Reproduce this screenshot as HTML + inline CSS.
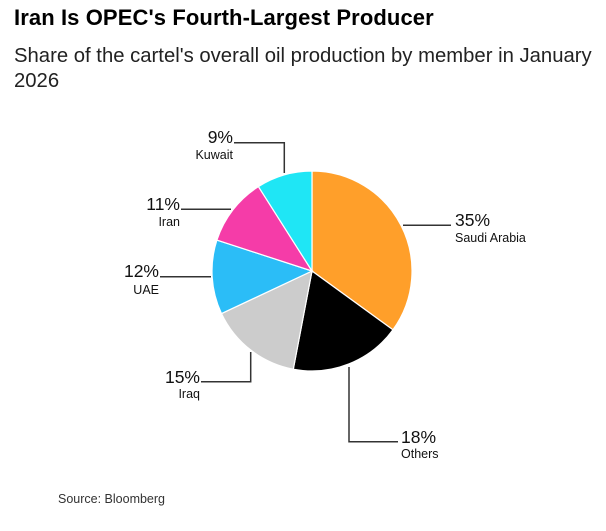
<!DOCTYPE html>
<html><head><meta charset="utf-8"><style>
body{margin:0;background:#fff;width:606px;height:531px;overflow:hidden;font-family:"Liberation Sans",sans-serif}
.t{position:absolute;left:14px;top:5px;font-size:22px;font-weight:bold;color:#000;letter-spacing:0.1px}
.s{position:absolute;left:14px;top:44px;width:590px;font-size:20.3px;line-height:25px;color:#222}
.src{position:absolute;left:58px;top:492px;font-size:12.5px;color:#333}
</style></head><body>
<div class="t">Iran Is OPEC's Fourth-Largest Producer</div>
<div class="s">Share of the cartel's overall oil production by member in January 2026</div>
<svg width="606" height="531" style="position:absolute;left:0;top:0">
<g stroke="#fff" stroke-width="1.2">
<path d="M312,271 L312,171 A100,100 0 0 1 392.9,329.8 Z" fill="#FF9F2A"/>
<path d="M312,271 L392.9,329.8 A100,100 0 0 1 293.3,369.2 Z" fill="#000"/>
<path d="M312,271 L293.3,369.2 A100,100 0 0 1 221.5,313.6 Z" fill="#CCCCCC"/>
<path d="M312,271 L221.5,313.6 A100,100 0 0 1 216.9,240.1 Z" fill="#2BBDF7"/>
<path d="M312,271 L216.9,240.1 A100,100 0 0 1 258.4,186.6 Z" fill="#F53CA8"/>
<path d="M312,271 L258.4,186.6 A100,100 0 0 1 312,171 Z" fill="#1FE6F5"/>
</g>
<g stroke="#333" stroke-width="1.5" fill="none">
<polyline points="284.3,173 284.3,142.7 234,142.7"/>
<polyline points="403,225.3 451,225.3"/>
<polyline points="181,209.3 231,209.3"/>
<polyline points="160,276.7 211,276.7"/>
<polyline points="250.7,352 250.7,381.7 201,381.7"/>
<polyline points="349,367 349,441.7 398,441.7"/>
</g>
<g font-family="Liberation Sans, sans-serif" fill="#111">
<text x="233" y="143" font-size="17.5" text-anchor="end">9%</text>
<text x="233" y="159" font-size="12.5" text-anchor="end">Kuwait</text>
<text x="180" y="210" font-size="17.5" text-anchor="end">11%</text>
<text x="180" y="226" font-size="12.5" text-anchor="end">Iran</text>
<text x="159" y="277" font-size="17.5" text-anchor="end">12%</text>
<text x="159" y="294" font-size="12.5" text-anchor="end">UAE</text>
<text x="200" y="383" font-size="17.5" text-anchor="end">15%</text>
<text x="200" y="398" font-size="12.5" text-anchor="end">Iraq</text>
<text x="455" y="226" font-size="17.5">35%</text>
<text x="455" y="242" font-size="12.5">Saudi Arabia</text>
<text x="401" y="443" font-size="17.5">18%</text>
<text x="401" y="458" font-size="12.5">Others</text>
</g>
</svg>
<div class="src">Source: Bloomberg</div>
</body></html>
